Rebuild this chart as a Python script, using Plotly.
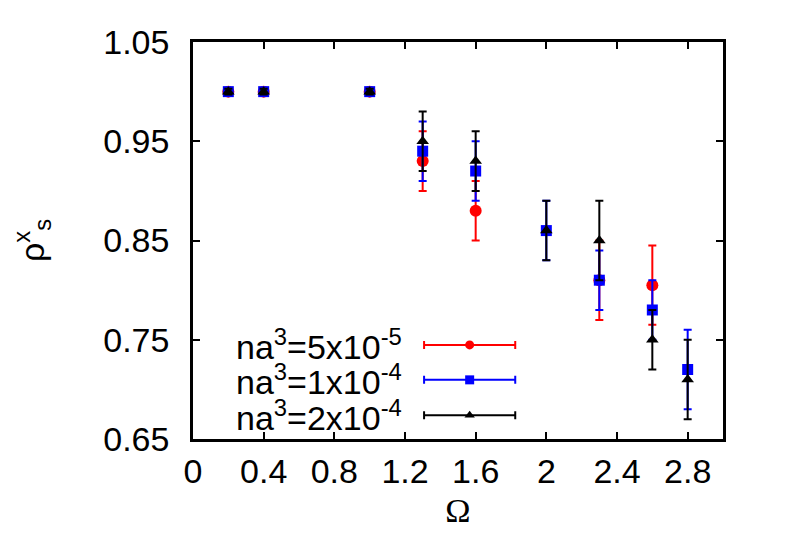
import plotly.graph_objects as go

# Omega values and rho_s^x for the three densities
omega_red = [0.2, 0.4, 1.0, 1.3, 1.6, 2.3, 2.6]
rho_red = [1.0, 1.0, 1.0, 0.93, 0.88, 0.81, 0.805]
err_red = [0.003, 0.003, 0.003, 0.03, 0.03, 0.04, 0.04]

omega_blue = [0.2, 0.4, 1.0, 1.3, 1.6, 2.0, 2.3, 2.6, 2.8]
rho_blue = [1.0, 1.0, 1.0, 0.94, 0.92, 0.86, 0.81, 0.78, 0.72]
err_blue = [0.003, 0.003, 0.003, 0.03, 0.03, 0.03, 0.03, 0.03, 0.04]

omega_black = [0.2, 0.4, 1.0, 1.3, 1.6, 2.0, 2.3, 2.6, 2.8]
rho_black = [1.0, 1.0, 1.0, 0.95, 0.93, 0.86, 0.85, 0.75, 0.71]
err_black = [0.003, 0.003, 0.003, 0.03, 0.03, 0.03, 0.04, 0.03, 0.04]

labels = ["na<sup>3</sup>=5x10<sup>-5</sup>",
          "na<sup>3</sup>=1x10<sup>-4</sup>",
          "na<sup>3</sup>=2x10<sup>-4</sup>"]
x_ticks = [0, 0.4, 0.8, 1.2, 1.6, 2.0, 2.4, 2.8]
x_ticktext = ["0", "0.4", "0.8", "1.2", "1.6", "2", "2.4", "2.8"]
y_ticks = [0.65, 0.75, 0.85, 0.95, 1.05]

FONT = "Liberation Sans"
series = [
    (omega_red, rho_red, err_red, "#ff0000", "circle", 12),
    (omega_blue, rho_blue, err_blue, "#0000ff", "square", 11),
    (omega_black, rho_black, err_black, "#000000", "triangle-up", 11),
]

fig = go.Figure()
for xs, ys, es, col, sym, sz in series:
    fig.add_trace(go.Scatter(
        x=xs, y=ys, mode="markers",
        marker=dict(color=col, symbol=sym, size=sz, line=dict(width=0)),
        error_y=dict(type="data", array=es, visible=True, color=col, thickness=2, width=4),
        showlegend=False))

# hand-made gnuplot style key: text then an errorbar sample
key_y = [0.237, 0.149, 0.060]
for (xs, ys, es, col, sym, sz), lab, ky in zip(series, labels, key_y):
    fig.add_trace(go.Scatter(
        x=[0.522], y=[ky], xaxis="x2", yaxis="y2", mode="markers",
        marker=dict(color=col, symbol=sym, size=9, line=dict(width=0)),
        error_x=dict(type="data", array=[0.086], visible=True, color=col, thickness=2, width=4),
        showlegend=False, hoverinfo="skip"))
    fig.add_annotation(x=0.398, y=ky, xref="paper", yref="paper", text=lab,
                       showarrow=False, xanchor="right", yanchor="middle",
                       font=dict(family=FONT, size=34, color="black"))

axis_common = dict(showgrid=False, zeroline=False, showline=True, linecolor="black",
                   linewidth=2.5, mirror="ticks", ticks="inside", ticklen=7,
                   tickwidth=1.5, tickcolor="black",
                   tickfont=dict(family=FONT, size=34, color="black"))

# page body has an 8px margin, so the figure is a bit smaller than the window
fig.update_layout(
    width=773, height=536,
    margin=dict(l=185, r=58, t=34, b=105),
    paper_bgcolor="white", plot_bgcolor="white",
    xaxis=dict(range=[0, 3.0], tickvals=x_ticks, ticktext=x_ticktext,
               ticklabelstandoff=0,
               title=dict(text="Ω", font=dict(family="Liberation Serif", size=34, color="black"),
                          standoff=10),
               **axis_common),
    yaxis=dict(range=[0.65, 1.05], tickvals=y_ticks, tickformat=".2f",
               ticklabelstandoff=14,
               title=dict(text="ρ<sup>x</sup><sub>s</sub>",
                          font=dict(family=FONT, size=34, color="black"), standoff=50),
               **axis_common),
    xaxis2=dict(overlaying="x", range=[0, 1], visible=False, fixedrange=True),
    yaxis2=dict(overlaying="y", range=[0, 1], visible=False, fixedrange=True),
)

fig.write_html("out.html")
